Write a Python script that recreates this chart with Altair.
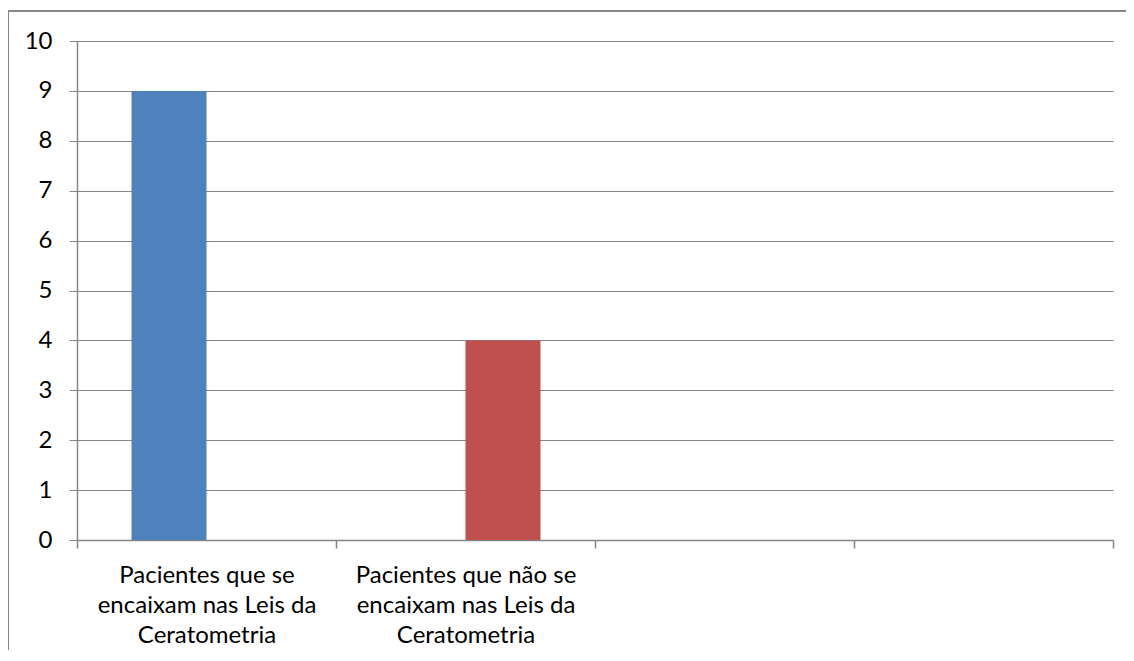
import altair as alt
import pandas as pd

categories = [
    "Pacientes que se|encaixam nas Leis da|Ceratometria",
    "Pacientes que não se|encaixam nas Leis da|Ceratometria",
    " ",
    "  ",
]
series_names = ["Série 1", "Série 2"]
series1 = [9, None, None, None]
series2 = [None, 4, None, None]
y_ticks = list(range(0, 11))

rows = []
for c, v1, v2 in zip(categories, series1, series2):
    rows.append({"cat": c, "serie": series_names[0], "valor": v1})
    rows.append({"cat": c, "serie": series_names[1], "valor": v2})
df = pd.DataFrame(rows).dropna()

GRAY = "#868686"
FONT = "Lato"

bars = alt.Chart(df).mark_bar(clip=False).encode(
    x=alt.X("cat:N", sort=categories,
            scale=alt.Scale(domain=categories, paddingInner=0, paddingOuter=0),
            axis=alt.Axis(title=None, labelAngle=0, tickBand="extent",
                          labelExpr="split(datum.label, '|')", labelLimit=0,
                          labelLineHeight=30, labelPadding=15, tickSize=8,
                          tickColor=GRAY, domainColor=GRAY, domainWidth=1.5,
                          tickWidth=1.5, grid=False, labelColor="#000000",
                          labelFont=FONT, labelFontSize=24, labelBaseline="top")),
    xOffset=alt.XOffset("serie:N", sort=series_names,
                        scale=alt.Scale(domain=series_names, paddingInner=0, paddingOuter=0.727)),
    y=alt.Y("valor:Q", scale=alt.Scale(domain=[0, 10], nice=False),
            axis=alt.Axis(title=None, values=y_ticks, grid=True, gridColor=GRAY,
                          gridWidth=1, tickColor=GRAY, tickSize=8, tickWidth=1,
                          domainColor=GRAY, domainWidth=1.5, labelPadding=17,
                          labelColor="#000000", labelFont=FONT, labelFontSize=24)),
    color=alt.Color("serie:N", sort=series_names,
                    scale=alt.Scale(domain=series_names, range=["#4F81BD", "#C0504D"]),
                    legend=None),
)

border_left = alt.Chart(df).mark_rule(color=GRAY, strokeWidth=2, clip=False).encode(
    x=alt.value(-69), y=alt.value(-30), y2=alt.value(700))
border_top = alt.Chart(df).mark_rule(color=GRAY, strokeWidth=2, clip=False).encode(
    y=alt.value(-30), x=alt.value(-69), x2=alt.value(1200))

chart = alt.layer(bars, border_left, border_top).properties(
    width=1036, height=499,
    autosize=alt.AutoSizeParams(type="none"),
    padding={"left": 69, "top": 33, "right": 13, "bottom": 110},
).configure_view(stroke=None)

chart.save("out.html", embed_options={"renderer": "svg", "actions": False})
